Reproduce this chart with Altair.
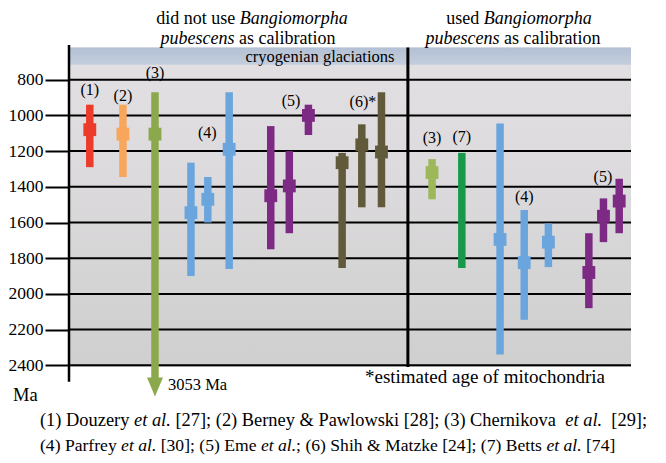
import altair as alt
import pandas as pd

FONT = "Liberation Serif"

# ---------------- data ----------------
bar_x = [3.7, 9.6, 15.3, 21.7, 24.7, 28.5, 35.9, 39.2, 42.6, 48.6, 52.1, 55.6,
         64.6, 69.9, 76.7, 81.0, 85.3, 92.5, 95.1, 97.9]
bar_low = [940, 940, 870, 1265, 1345, 870, 1060, 1200, 940, 1210, 1050, 870,
           1245, 1210, 1045, 1530, 1605, 1660, 1465, 1355]
bar_high = [1290, 1345, 3053, 1900, 1600, 1860, 1750, 1660, 1110, 1855, 1515, 1515,
            1470, 1855, 2340, 2145, 1850, 2080, 1710, 1660]
bar_point = [1080, 1105, 1105, 1545, 1470, 1190, 1450, 1395, 1000, 1265, 1165, 1205,
             1320, None, 1695, 1825, 1710, 1880, 1565, 1480]
bar_color = ["#ec3b2a", "#f8a65c", "#8ba94c", "#6ba5dd", "#6ba5dd", "#6ba5dd",
             "#7d2a84", "#7d2a84", "#7d2a84", "#605a3b", "#605a3b", "#605a3b",
             "#9cb85b", "#169a4a", "#6ba5dd", "#6ba5dd", "#6ba5dd",
             "#7d2a84", "#7d2a84", "#7d2a84"]

label_text = ["(1)", "(2)", "(3)", "(4)", "(5)", "(6)*", "(3)", "(7)", "(4)", "(5)"]
label_x = [3.7, 9.6, 15.3, 24.6, 39.5, 52.3, 64.6, 69.9, 81.0, 95.0]
label_y = [886, 919, 789, 1127, 947, 951, 1155, 1147, 1483, 1371]

tick_values = [800, 1000, 1200, 1400, 1600, 1800, 2000, 2200, 2400]
panel_top, panel_bottom = 620, 2410
cryo_band = [620, 716]
separator_x = 60.3
axis_span = [605, 2492]
arrow_cut = 2480
arrow_tip = 2521

# ---------------- layout ----------------
PAD_L, PAD_T, PAD_R, PAD_B = 61, 36, 27, 54
W, H = 562, 357
Y_DOMAIN = [600, 2600]
MARGIN = 8


def ux(px):
    return (px - MARGIN - PAD_L) / W * 100


def ym(py):
    return Y_DOMAIN[0] + (py - MARGIN - PAD_T) / H * (Y_DOMAIN[1] - Y_DOMAIN[0])


REG = {' ': 250, '(': 333, ')': 333, '[': 333, ']': 333, ';': 278, '.': 250,
       '&': 778, '*': 500, ',': 250}
REG.update({c: 500 for c in "0123456789"})
REG.update(dict(zip("abcdefghijklmnopqrstuvwxyz",
                    [444, 500, 444, 500, 444, 333, 500, 500, 278, 278, 500, 278, 778,
                     500, 500, 500, 500, 333, 389, 278, 500, 500, 722, 500, 500, 444])))
REG.update(dict(zip("ABCDEFGHIJKLMNOPQRSTUVWXYZ",
                    [722, 667, 667, 722, 611, 556, 722, 722, 333, 389, 722, 611, 889,
                     722, 722, 556, 722, 667, 556, 611, 722, 722, 944, 722, 722, 611])))
ITA = {' ': 250, '.': 250, 'B': 611}
ITA.update(dict(zip("abcdefghijklmnopqrstuvwxyz",
                    [500, 500, 444, 500, 444, 278, 500, 500, 278, 278, 444, 278, 722,
                     500, 500, 500, 500, 389, 389, 278, 500, 444, 667, 444, 444, 389])))


def measure(s, italic, size):
    tab = ITA if italic else REG
    return sum(tab.get(c, 500) for c in s) / 1000 * size


text_items = [
    ([("did not use ", False), ("Bangiomorpha", True)], 252, 24, 18, "center"),
    ([("pubescens", True), (" as calibration", False)], 248, 44, 18, "center"),
    ([("used ", False), ("Bangiomorpha", True)], 519, 24, 18, "center"),
    ([("pubescens", True), (" as calibration", False)], 513, 44, 18, "center"),
    ([("cryogenian glaciations", False)], 320, 62, 16.5, "center"),
    ([("*estimated age of mitochondria", False)], 485, 383, 19, "center"),
    ([("3053 Ma", False)], 168, 389.5, 16.5, "left"),
    ([("Ma", False)], 13, 401, 18.5, "left"),
    ([("(1) Douzery ", False), ("et al.", True),
      (" [27]; (2) Berney & Pawlowski  [28]; (3) Chernikova ", False), ("et al.", True),
      ("  [29];", False)], 40, 426, 18.4, "left"),
    ([("(4) Parfrey ", False), ("et al.", True), (" [30]; (5) Eme ", False), ("et al.", True),
      ("; (6) Shih & Matzke [24]; (7) Betts ", False), ("et al.", True), (" [74]", False)],
     40, 451, 17.6, "left"),
]

rows = []
for segs, ax, by, size, align in text_items:
    total = sum(measure(t, it, size) for t, it in segs)
    left = ax if align == "left" else ax - total / 2
    cur = left
    for t, it in segs:
        lead = len(t) - len(t.lstrip(' '))
        start = cur + measure(t[:lead], it, size)
        rows.append({"text": t.strip(' '), "x": ux(start), "y": ym(by), "size": size,
                     "style": "italic" if it else "normal"})
        cur += measure(t, it, size)
text_df = pd.DataFrame(rows)

bars_df = pd.DataFrame({"x": bar_x, "low": bar_low, "high": bar_high,
                        "point": bar_point, "color": bar_color})
labels_df = pd.DataFrame({"text": label_text, "x": label_x, "y": label_y})

# ---------------- scales / axes ----------------
xscale = alt.Scale(domain=[0, 100], nice=False, zero=False)
yscale = alt.Scale(domain=Y_DOMAIN, reverse=True, nice=False, zero=False)
yaxis = alt.Axis(values=tick_values, domain=False, grid=False, ticks=True, tickSize=24,
                 tickWidth=2, tickColor="black", labelFont=FONT, labelFontSize=17.5,
                 labelColor="black", labelPadding=2, title=None, format="d")


def X(f):
    return alt.X(f, type="quantitative", scale=xscale, axis=None)


def Y(f):
    return alt.Y(f, type="quantitative", scale=yscale, axis=yaxis)


bg_df = pd.DataFrame({"x0": [0], "x1": [100], "y0": [panel_top], "y1": [panel_bottom]})
band_df = pd.DataFrame({"x0": [0], "x1": [100], "y0": [cryo_band[0]], "y1": [cryo_band[1]]})

gray_grad = alt.LinearGradient(gradient="linear", x1=0, x2=0, y1=0, y2=1,
                               stops=[alt.GradientStop(color="#e2e0e2", offset=0),
                                      alt.GradientStop(color="#dcdadc", offset=0.4),
                                      alt.GradientStop(color="#cfcfcf", offset=1)])
blue_grad = alt.LinearGradient(gradient="linear", x1=0, x2=0, y1=0, y2=1,
                               stops=[alt.GradientStop(color="#b3c0d4", offset=0),
                                      alt.GradientStop(color="#c4cedc", offset=1)])

bg = alt.Chart(bg_df).mark_rect(color=gray_grad).encode(
    x=X("x0"), x2="x1", y=Y("y0"), y2="y1")
band = alt.Chart(band_df).mark_rect(color=blue_grad).encode(
    x=X("x0"), x2="x1", y=Y("y0"), y2="y1")

grid = alt.Chart(pd.DataFrame({"v": tick_values, "x0": 0, "x1": 100})).mark_rule(
    color="black", strokeWidth=2).encode(y=Y("v"), x=X("x0"), x2="x1")

sep = alt.Chart(pd.DataFrame({"x": [separator_x], "y0": [panel_top], "y1": [panel_bottom]})
                ).mark_rule(color="black", strokeWidth=3).encode(x=X("x"), y=Y("y0"), y2="y1")
axline = alt.Chart(pd.DataFrame({"x": [0], "y0": [axis_span[0]], "y1": [axis_span[1]]})
                   ).mark_rule(color="black", strokeWidth=2.5).encode(x=X("x"), y=Y("y0"), y2="y1")

ranges = alt.Chart(bars_df).transform_calculate(
    high_disp=f"min(datum.high, {arrow_cut})").mark_rule(
    strokeWidth=7.5, strokeCap="butt").encode(
    x=X("x"), y=Y("low"), y2="high_disp:Q", color=alt.Color("color:N", scale=None))

points = alt.Chart(bars_df).transform_filter("datum.point != null").mark_point(
    shape="square", size=165, filled=True, opacity=1).encode(
    x=X("x"), y=Y("point"), color=alt.Color("color:N", scale=None))

arrow = alt.Chart(bars_df).transform_filter(f"datum.high > {arrow_cut}").transform_calculate(
    tip=str(arrow_tip)).mark_point(
    shape="M-0.84,-1L0.84,-1L0,1Z", size=361, filled=True, opacity=1).encode(
    x=X("x"), y=Y("tip:Q"), color=alt.Color("color:N", scale=None))

labels = alt.Chart(labels_df).mark_text(font=FONT, fontSize=16, align="center",
                                        baseline="alphabetic", color="black").encode(
    x=X("x"), y=Y("y"), text="text:N")

txt_reg = alt.Chart(text_df).transform_filter("datum.style == 'normal'").mark_text(
    font=FONT, align="left", baseline="alphabetic", color="black").encode(
    x=X("x"), y=Y("y"), text="text:N", size=alt.Size("size:Q", scale=None))
txt_ita = alt.Chart(text_df).transform_filter("datum.style == 'italic'").mark_text(
    font=FONT, fontStyle="italic", align="left", baseline="alphabetic", color="black").encode(
    x=X("x"), y=Y("y"), text="text:N", size=alt.Size("size:Q", scale=None))

chart = alt.layer(bg, band, grid, sep, axline, ranges, points, arrow, labels,
                  txt_reg, txt_ita).properties(
    width=W, height=H,
    autosize=alt.AutoSizeParams(type="none"),
    padding={"left": PAD_L, "top": PAD_T, "right": PAD_R, "bottom": PAD_B},
    background="white",
).configure_view(stroke=None)

chart.save("out.html", embed_options={"renderer": "svg", "actions": False})
